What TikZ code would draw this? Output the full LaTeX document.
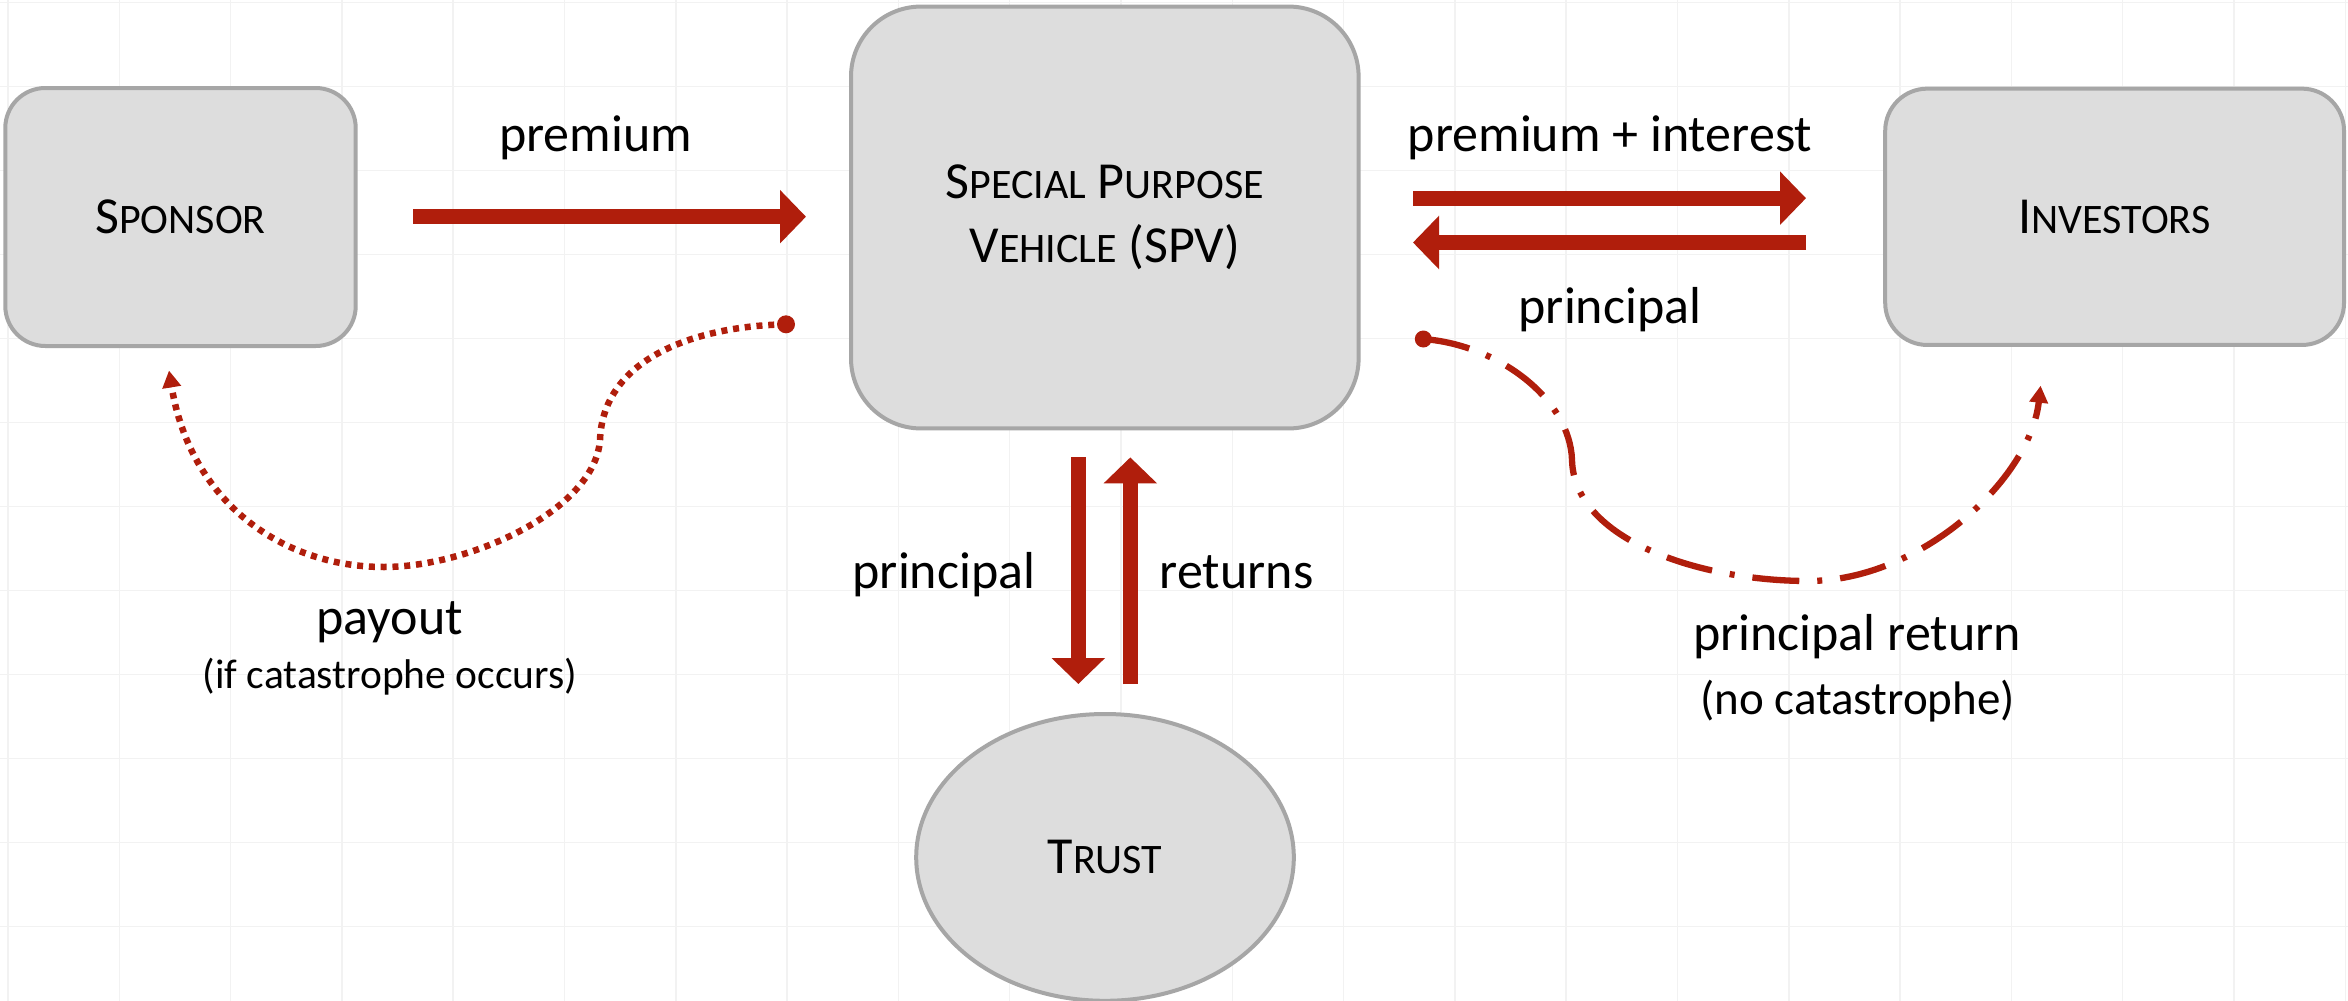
\documentclass[tikz,border=0pt]{standalone}
\usepackage{fontspec}
\setmainfont{Carlito}
\usetikzlibrary{arrows.meta,shapes.geometric}
\definecolor{boxfill}{RGB}{221,221,221}
\definecolor{boxline}{RGB}{166,166,166}
\definecolor{flowred}{RGB}{176,30,12}
\definecolor{gridc}{RGB}{242,242,242}
\newcommand\fsc[2]{#1{\fontsize{42}{64}\selectfont #2}}
\begin{document}
\begin{tikzpicture}[x=1pt,y=-1pt,
  box/.style={draw=boxline, fill=boxfill, line width=4pt, rounded corners=#1,
    inner sep=0pt, align=center, font=\fontsize{52}{64.3}\selectfont},
  oval/.style={ellipse, draw=boxline, fill=boxfill, line width=4pt,
    inner sep=0pt, font=\fontsize{52}{64.3}\selectfont},
  lbl/.style={inner sep=0pt, anchor=base, font=\fontsize{52}{62}\selectfont},
  bigarrow/.style={draw=flowred, line width=15pt, line cap=butt,
    -{Triangle[length=26pt,width=52pt]}},
  dotflow/.style={draw=flowred, line width=6.5pt, line cap=butt,
    dash pattern=on 6pt off 5.8pt, -{Triangle[length=17pt,width=18pt]}},
  dashdotflow/.style={draw=flowred, line width=6.3pt, line cap=butt,
    dash pattern=on 47pt off 18pt on 5pt off 18pt, -{Triangle[length=17pt,width=18pt]}},
  startdot/.style={fill=flowred}
]
\useasboundingbox (0,0) rectangle (2348,1001);
\fill[white] (0,0) rectangle (2348,1001);
% faint background grid
\foreach \k in {0,...,21} \draw[gridc, line width=1.5pt] ({8+111.3*\k},0) -- ({8+111.3*\k},1001);
\foreach \k in {0,...,11} \draw[gridc, line width=1.5pt] (0,{2.7+84*\k}) -- (2348,{2.7+84*\k});

% nodes
\node[box=40pt, minimum width=350.4pt, minimum height=258pt] (sponsor) at (180.5,217) {\fsc{S}{PONSOR}};
\node[box=70pt, minimum width=507.6pt, minimum height=421.9pt] (spv) at (1104.8,217.5)
  {\fsc{S}{PECIAL} \fsc{P}{URPOSE}\\\fsc{V}{EHICLE} (SPV)};
\node[box=42pt, minimum width=458.8pt, minimum height=256.3pt] (investors) at (2114.6,216.8) {\fsc{I}{NVESTORS}};
\node[oval, minimum width=377.6pt, minimum height=286.8pt] (trust) at (1105,857.4) {\fsc{T}{RUST}};

% arrow end points
\coordinate (premS) at (413,216.7);
\coordinate (premE) at (806,216.7);
\coordinate (piS) at (1413,198.2);
\coordinate (piE) at (1806,198.2);
\coordinate (prS) at (1806,242.5);
\coordinate (prE) at (1413,242.5);
\coordinate (dnS) at (1078.3,457);
\coordinate (dnE) at (1078.3,684);
\coordinate (upS) at (1130.3,684);
\coordinate (upE) at (1130.3,457.4);
\coordinate (payS) at (786,324.3);
\coordinate (payE) at (169,370.5);
\coordinate (retS) at (1423.3,339);
\coordinate (retE) at (2040.6,385.7);

% straight flows
\draw[bigarrow] (premS) -- (premE);
\draw[bigarrow] (piS) -- (piE);
\draw[bigarrow] (prS) -- (prE);
\draw[bigarrow] (dnS) -- (dnE);
\draw[bigarrow] (upS) -- (upE);

% curved flows
\fill[startdot] (payS) circle (9pt);
\draw[dotflow] (payS) .. controls (700,326) and (603,356) .. (600,440)
  .. controls (595,510) and (470,567) .. (384,567)
  .. controls (280,567) and (190,500) .. (payE);
\fill[startdot] (retS) circle (8.5pt);
\draw[dashdotflow] (retS) .. controls (1500,345) and (1570,400) .. (1572,460)
  .. controls (1574,540) and (1700,581) .. (1808,581)
  .. controls (1920,581) and (2030,480) .. (retE);

% labels
\node[lbl] (lblPrem) at (595.5,151.7) {premium};
\node[lbl] (lblPremInt) at (1610,151) {premium + interest};
\node[lbl] (lblPrinR) at (1610,323.3) {principal};
\node[lbl] (lblPrinB) at (944,588) {principal};
\node[lbl] (lblRet) at (1236.5,588) {returns};
\node[lbl] (lblPay) at (389.7,634.8) {payout};
\node[lbl, font=\fontsize{41.5}{50}\selectfont] (lblPayC) at (390,688.4) {(if catastrophe occurs)};
\node[lbl] (lblPR) at (1857,650.4) {principal return};
\node[lbl, font=\fontsize{47}{56}\selectfont] (lblPRC) at (1857.5,714) {(no catastrophe)};
\end{tikzpicture}
\end{document}
